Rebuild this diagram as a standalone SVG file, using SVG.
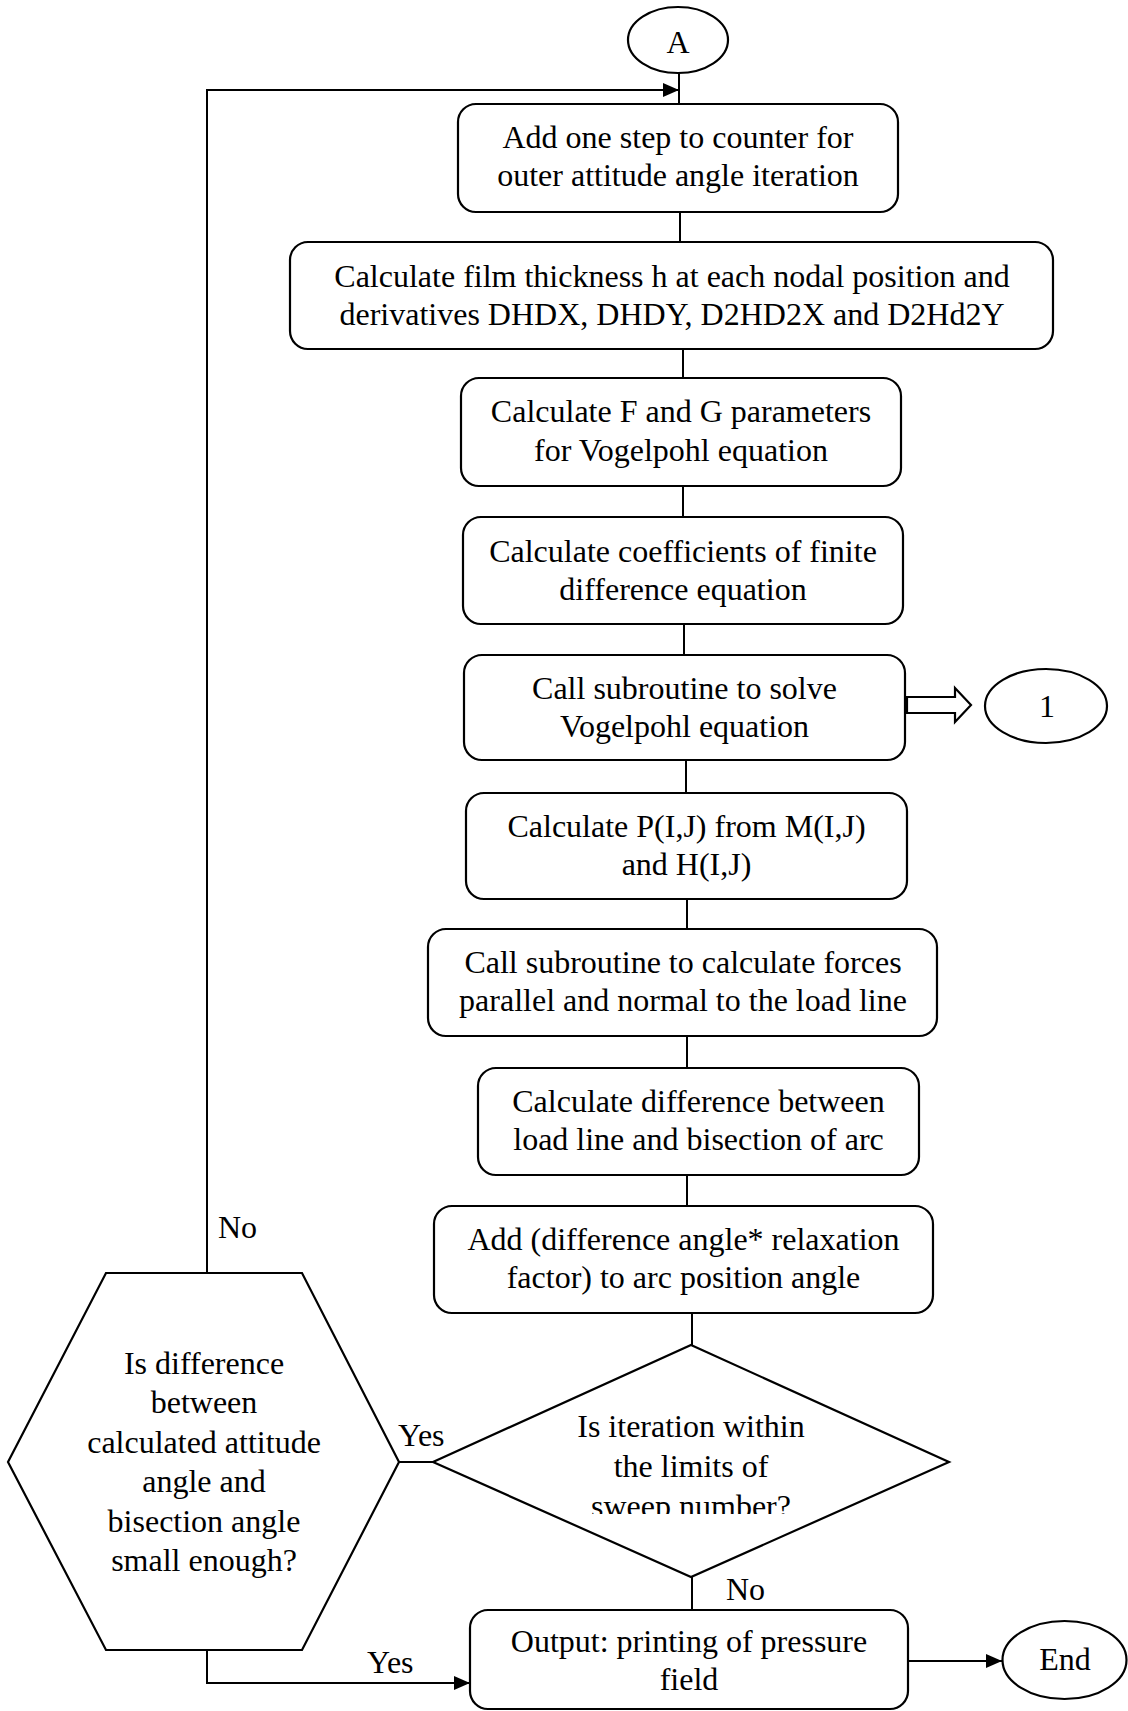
<svg xmlns="http://www.w3.org/2000/svg" width="1128" height="1711" viewBox="0 0 1128 1711">
<style>
  .shape { fill: #ffffff; stroke: #000000; stroke-width: 2.2; }
  .line { fill: none; stroke: #000000; stroke-width: 2; }
  text { font-family: "Liberation Serif", "Times New Roman", serif; font-size: 32px; fill: #000000; }
  .c { text-anchor: middle; }
</style>
<defs>
  <marker id="arrow" markerUnits="userSpaceOnUse" markerWidth="16" markerHeight="14" refX="16" refY="7" orient="auto">
    <path d="M0,0 L16,7 L0,14 z" fill="#000000"/>
  </marker>
  <clipPath id="diamondClip">
    <rect x="380" y="1340" width="620" height="174"/>
  </clipPath>
</defs>
<rect width="1128" height="1711" fill="#ffffff"/>

<g id="connectors">
  <line class="line" x1="679" y1="73" x2="679" y2="104"/>
  <polyline class="line" points="207,1273 207,90 679,90" marker-end="url(#arrow)"/>
  <line class="line" x1="680" y1="212" x2="680" y2="242"/>
  <line class="line" x1="683" y1="349" x2="683" y2="378"/>
  <line class="line" x1="683" y1="486" x2="683" y2="517"/>
  <line class="line" x1="684" y1="624" x2="684" y2="655"/>
  <line class="line" x1="686" y1="760" x2="686" y2="793"/>
  <line class="line" x1="687" y1="899" x2="687" y2="929"/>
  <line class="line" x1="687" y1="1036" x2="687" y2="1068"/>
  <line class="line" x1="687" y1="1175" x2="687" y2="1206"/>
  <line class="line" x1="692" y1="1313" x2="692" y2="1345"/>
  <line class="line" x1="692" y1="1577" x2="692" y2="1610"/>
  <line class="line" x1="433" y1="1462" x2="399" y2="1462"/>
  <polyline class="line" points="207,1650 207,1683 470,1683" marker-end="url(#arrow)"/>
  <line class="line" x1="908" y1="1661" x2="1002" y2="1661" marker-end="url(#arrow)"/>
  <polygon class="shape" points="907,697 955,697 955,688 971,705 955,722 955,713 907,713"/>
  <text x="218" y="1238">No</text>
  <text x="398" y="1446">Yes</text>
  <text x="726" y="1600">No</text>
  <text x="367" y="1673">Yes</text>
</g>

<g id="nodeA">
  <ellipse class="shape" cx="678" cy="40" rx="50" ry="33"/>
  <text class="c" x="678" y="53">A</text>
</g>

<g id="box1">
  <rect class="shape" x="458" y="104" width="440" height="108" rx="18"/>
  <text class="c" x="678" y="148">Add one step to counter for</text>
  <text class="c" x="678" y="186">outer attitude angle iteration</text>
</g>

<g id="box2">
  <rect class="shape" x="290" y="242" width="763" height="107" rx="18"/>
  <text class="c" x="672" y="287">Calculate film thickness h at each nodal position and</text>
  <text class="c" x="672" y="325">derivatives DHDX, DHDY, D2HD2X and D2Hd2Y</text>
</g>

<g id="box3">
  <rect class="shape" x="461" y="378" width="440" height="108" rx="18"/>
  <text class="c" x="681" y="422">Calculate F and G parameters</text>
  <text class="c" x="681" y="461">for Vogelpohl equation</text>
</g>

<g id="box4">
  <rect class="shape" x="463" y="517" width="440" height="107" rx="18"/>
  <text class="c" x="683" y="562">Calculate coefficients of finite</text>
  <text class="c" x="683" y="600">difference equation</text>
</g>

<g id="box5">
  <rect class="shape" x="464" y="655" width="441" height="105" rx="18"/>
  <text class="c" x="684.5" y="699">Call subroutine to solve</text>
  <text class="c" x="684.5" y="737">Vogelpohl equation</text>
</g>

<g id="node1">
  <ellipse class="shape" cx="1046" cy="706" rx="61" ry="37"/>
  <text class="c" x="1047" y="717">1</text>
</g>

<g id="box6">
  <rect class="shape" x="466" y="793" width="441" height="106" rx="18"/>
  <text class="c" x="686.5" y="837">Calculate P(I,J) from M(I,J)</text>
  <text class="c" x="686.5" y="875">and H(I,J)</text>
</g>

<g id="box7">
  <rect class="shape" x="428" y="929" width="509" height="107" rx="18"/>
  <text class="c" x="683" y="973">Call subroutine to calculate forces</text>
  <text class="c" x="683" y="1011">parallel and normal to the load line</text>
</g>

<g id="box8">
  <rect class="shape" x="478" y="1068" width="441" height="107" rx="18"/>
  <text class="c" x="698.5" y="1112">Calculate difference between</text>
  <text class="c" x="698.5" y="1150">load line and bisection of arc</text>
</g>

<g id="box9">
  <rect class="shape" x="434" y="1206" width="499" height="107" rx="18"/>
  <text class="c" x="683.5" y="1250">Add (difference angle* relaxation</text>
  <text class="c" x="683.5" y="1288">factor) to arc position angle</text>
</g>

<g id="decision1">
  <polygon class="shape" points="691,1345 949,1462 691,1577 433,1462"/>
  <g clip-path="url(#diamondClip)">
    <text class="c" x="691" y="1437">Is iteration within</text>
    <text class="c" x="691" y="1477">the limits of</text>
    <text class="c" x="691" y="1517">sweep number?</text>
  </g>
</g>

<g id="decision2">
  <polygon class="shape" points="106,1273 302,1273 399,1462 302,1650 106,1650 8,1462"/>
  <text class="c" x="204" y="1374">Is difference</text>
  <text class="c" x="204" y="1413">between</text>
  <text class="c" x="204" y="1453">calculated attitude</text>
  <text class="c" x="204" y="1492">angle and</text>
  <text class="c" x="204" y="1532">bisection angle</text>
  <text class="c" x="204" y="1571">small enough?</text>
</g>

<g id="output">
  <rect class="shape" x="470" y="1610" width="438" height="99" rx="18"/>
  <text class="c" x="689" y="1652">Output: printing of pressure</text>
  <text class="c" x="689" y="1690">field</text>
</g>

<g id="nodeEnd">
  <ellipse class="shape" cx="1064.5" cy="1660" rx="62" ry="39"/>
  <text class="c" x="1065" y="1670">End</text>
</g>
</svg>
